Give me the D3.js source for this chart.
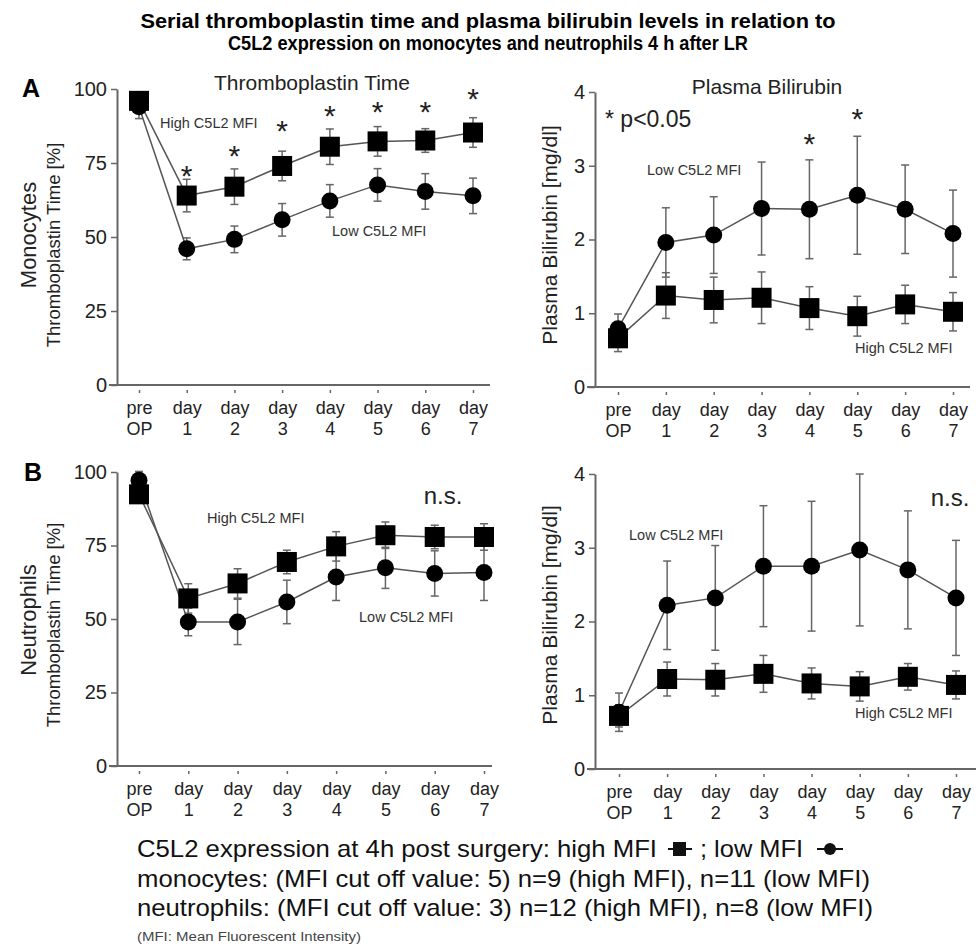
<!DOCTYPE html>
<html>
<head>
<meta charset="utf-8">
<script src="https://cdn.jsdelivr.net/npm/d3@7"></script>
<style>
  body { margin: 0; background: #fff; }
  svg { display: block; font-family: "Liberation Sans", Arial, sans-serif; }
  .axis path, .axis line { stroke: #666; }
  .axis text { fill: #222; }
</style>
</head>
<body>
<script>
var w = 976,
    h = 948;

// x categories (two text lines each)
var cats = ["pre|OP", "day|1", "day|2", "day|3", "day|4", "day|5", "day|6", "day|7"];
var tptTicks = [0, 25, 50, 75, 100];
var bilTicks = [0, 1, 2, 3, 4];

// A: monocytes, thromboplastin time [%]
var monoTptHigh    = [96, 64, 67, 74, 80.5, 82.3, 82.6, 85.3];
var monoTptHighErr = [3, 5.5, 6, 5, 6, 5, 4, 5];
var monoTptLow     = [94, 46, 49.2, 55.8, 62.2, 67.6, 65.4, 63.9];
var monoTptLowErr  = [4, 3.7, 4.5, 5.5, 5.5, 5.5, 6, 6];
var monoTptStars   = [null, 72.7, 79.3, 88, 93, 94.4, 94.4, 98.7];

// A: monocytes, plasma bilirubin [mg/dl]
var monoBilHigh    = [0.66, 1.24, 1.18, 1.21, 1.07, 0.96, 1.12, 1.02];
var monoBilHighErr = [0.18, 0.31, 0.31, 0.35, 0.29, 0.27, 0.26, 0.26];
var monoBilLow     = [0.79, 1.96, 2.06, 2.42, 2.41, 2.6, 2.41, 2.08];
var monoBilLowErr  = [0.2, 0.47, 0.52, 0.63, 0.67, 0.8, 0.6, 0.59];
var monoBilStars   = [null, null, null, null, 3.37, 3.72, null, null];

// B: neutrophils, thromboplastin time [%]
var neuTptHigh    = [92.4, 57, 62.1, 69.4, 74.7, 78.5, 77.9, 77.9];
var neuTptHighErr = [3, 5, 5, 4, 5, 4.5, 4, 4.5];
var neuTptLow     = [97.2, 49, 49, 55.8, 64.3, 67.4, 65.5, 65.8];
var neuTptLowErr  = [3, 4.7, 7.7, 7.4, 8, 7, 7.7, 9.5];

// B: neutrophils, plasma bilirubin [mg/dl]
var neuBilHigh    = [0.72, 1.22, 1.21, 1.29, 1.16, 1.12, 1.25, 1.14];
var neuBilHighErr = [0.15, 0.23, 0.22, 0.25, 0.21, 0.2, 0.18, 0.19];
var neuBilLow     = [0.77, 2.22, 2.32, 2.75, 2.75, 2.97, 2.7, 2.32];
var neuBilLowErr  = [0.26, 0.6, 0.71, 0.82, 0.88, 1.03, 0.8, 0.78];

var svg = d3.select("body").append("svg")
    .attr("width", w)
    .attr("height", h);

function panel(p) {
    var x = d3.scalePoint().domain(cats).range([p.x0, p.x1]);
    var y = d3.scaleLinear().domain([0, p.max]).range([p.yb, p.yt]);
    var g = svg.append("g");

    // y axis
    g.append("g")
        .attr("class", "axis")
        .attr("transform", "translate(" + p.ax + ",0)")
        .call(d3.axisLeft(y).tickValues(p.ticks).tickFormat(d3.format("d"))
            .tickSize(6).tickSizeOuter(0).tickPadding(4))
        .call(function(s) {
            s.select(".domain").attr("stroke-width", 2);
            s.selectAll(".tick line").attr("stroke-width", 1.5);
            s.selectAll("text").style("font-size", "20px");
        });

    // x axis base line
    g.append("line")
        .attr("x1", p.ax - 8).attr("x2", p.xend)
        .attr("y1", p.yb).attr("y2", p.yb)
        .attr("stroke", "#666").attr("stroke-width", 2);

    var xa = g.append("g")
        .attr("class", "axis")
        .attr("transform", "translate(0," + (p.yb + 5) + ")")
        .call(d3.axisBottom(x).tickSize(3).tickFormat(""));
    xa.select(".domain").remove();
    xa.selectAll(".tick line").attr("stroke", "#999").attr("stroke-width", 1.5);
    xa.selectAll(".tick").each(function(d) {
        var parts = d.split("|");
        var t = d3.select(this).append("text")
            .attr("fill", "#222")
            .style("font-size", "18px")
            .attr("text-anchor", "middle");
        t.append("tspan").attr("x", 0).attr("y", 24).text(parts[0]);
        t.append("tspan").attr("x", 0).attr("y", 45).text(parts[1]);
    });

    var series = [
        {v: p.low, e: p.lowErr, shape: "circle"},
        {v: p.high, e: p.highErr, shape: "square"}
    ];

    // error bars
    series.forEach(function(s) {
        var eb = g.append("g").selectAll("g")
            .data(s.v.map(function(v, i) { return {c: cats[i], v: v, e: s.e[i]}; }))
            .enter().append("g")
            .attr("stroke", "#666").attr("stroke-width", 1.5);
        eb.append("line")
            .attr("x1", function(d) { return x(d.c); })
            .attr("x2", function(d) { return x(d.c); })
            .attr("y1", function(d) { return y(d.v - d.e); })
            .attr("y2", function(d) { return y(d.v + d.e); });
        [-1, 1].forEach(function(sg) {
            eb.append("line")
                .attr("x1", function(d) { return x(d.c) - 4; })
                .attr("x2", function(d) { return x(d.c) + 4; })
                .attr("y1", function(d) { return y(d.v + sg * d.e); })
                .attr("y2", function(d) { return y(d.v + sg * d.e); });
        });
    });

    // connecting lines
    var line = d3.line()
        .x(function(d, i) { return x(cats[i]); })
        .y(function(d) { return y(d); });
    series.forEach(function(s) {
        g.append("path")
            .datum(s.v)
            .attr("d", line)
            .attr("fill", "none")
            .attr("stroke", "#555")
            .attr("stroke-width", 1.5);
    });

    // markers
    series.forEach(function(s) {
        var sel = g.append("g").selectAll("x").data(s.v).enter();
        if (s.shape === "circle") {
            sel.append("circle")
                .attr("cx", function(d, i) { return x(cats[i]); })
                .attr("cy", function(d) { return y(d); })
                .attr("r", 8.5)
                .attr("fill", "#000");
        } else {
            sel.append("rect")
                .attr("x", function(d, i) { return x(cats[i]) - 10; })
                .attr("y", function(d) { return y(d) - 10; })
                .attr("width", 20).attr("height", 20)
                .attr("fill", "#000");
        }
    });

    // significance stars
    if (p.stars) {
        g.append("g").selectAll("text")
            .data(p.stars.map(function(v, i) { return {c: cats[i], v: v}; })
                .filter(function(d) { return d.v !== null; }))
            .enter().append("text")
            .attr("x", function(d) { return x(d.c); })
            .attr("y", function(d) { return y(d.v) + 16; })
            .attr("text-anchor", "middle")
            .style("font-size", "30px")
            .attr("fill", "#222")
            .text("*");
    }

    // notes
    p.notes.forEach(function(n) {
        g.append("text")
            .attr("x", n.x).attr("y", n.y)
            .attr("text-anchor", n.anchor || "start")
            .style("font-size", n.size + "px")
            .style("font-weight", n.bold ? "bold" : "normal")
            .attr("fill", n.color || "#222")
            .text(n.t);
    });

    // y labels
    p.ylab.forEach(function(l) {
        g.append("text")
            .attr("transform", "translate(" + l.x + "," + l.y + ") rotate(-90)")
            .attr("text-anchor", "middle")
            .attr("dy", "0.35em")
            .style("font-size", l.size + "px")
            .attr("fill", "#222")
            .text(l.t);
    });
}

panel({
    ax: 117, x0: 139, x1: 473, xend: 490, yb: 385, yt: 89, max: 100, ticks: tptTicks,
    high: monoTptHigh, highErr: monoTptHighErr, low: monoTptLow, lowErr: monoTptLowErr,
    stars: monoTptStars,
    notes: [
        {t: "A", x: 22, y: 97, size: 25, bold: true, color: "#000"},
        {t: "Thromboplastin Time", x: 312, y: 90, size: 21, anchor: "middle"},
        {t: "High C5L2 MFI", x: 160, y: 128, size: 14.5, color: "#333"},
        {t: "Low C5L2 MFI", x: 332, y: 236, size: 14.5, color: "#333"}
    ],
    ylab: [
        {t: "Monocytes", x: 28, y: 235, size: 22},
        {t: "Thromboplastin Time [%]", x: 54, y: 245, size: 18.5}
    ]
});

panel({
    ax: 595, x0: 618, x1: 953, xend: 970, yb: 387, yt: 92, max: 4, ticks: bilTicks,
    high: monoBilHigh, highErr: monoBilHighErr, low: monoBilLow, lowErr: monoBilLowErr,
    stars: monoBilStars,
    notes: [
        {t: "Plasma Bilirubin", x: 767, y: 94, size: 21, anchor: "middle"},
        {t: "* p<0.05", x: 605, y: 127, size: 23},
        {t: "Low C5L2 MFI", x: 647, y: 175, size: 14.5, color: "#333"},
        {t: "High C5L2 MFI", x: 855, y: 353, size: 14.5, color: "#333"}
    ],
    ylab: [
        {t: "Plasma Bilirubin [mg/dl]", x: 550, y: 235, size: 21}
    ]
});

panel({
    ax: 117, x0: 139, x1: 484, xend: 492, yb: 766, yt: 472, max: 100, ticks: tptTicks,
    high: neuTptHigh, highErr: neuTptHighErr, low: neuTptLow, lowErr: neuTptLowErr,
    stars: null,
    notes: [
        {t: "B", x: 24, y: 481, size: 25, bold: true, color: "#000"},
        {t: "n.s.", x: 443, y: 504, size: 24, anchor: "middle"},
        {t: "High C5L2 MFI", x: 207, y: 523, size: 14.5, color: "#333"},
        {t: "Low C5L2 MFI", x: 359, y: 622, size: 14.5, color: "#333"}
    ],
    ylab: [
        {t: "Neutrophils", x: 28, y: 620, size: 22},
        {t: "Thromboplastin Time [%]", x: 54, y: 625, size: 18.5}
    ]
});

panel({
    ax: 595, x0: 619, x1: 956, xend: 976, yb: 769, yt: 474, max: 4, ticks: bilTicks,
    high: neuBilHigh, highErr: neuBilHighErr, low: neuBilLow, lowErr: neuBilLowErr,
    stars: null,
    notes: [
        {t: "n.s.", x: 950, y: 506, size: 24, anchor: "middle"},
        {t: "Low C5L2 MFI", x: 629, y: 540, size: 14.5, color: "#333"},
        {t: "High C5L2 MFI", x: 855, y: 718, size: 14.5, color: "#333"}
    ],
    ylab: [
        {t: "Plasma Bilirubin [mg/dl]", x: 550, y: 615, size: 21}
    ]
});

// main title
svg.append("text")
    .attr("x", 488).attr("y", 28)
    .attr("text-anchor", "middle")
    .attr("textLength", 695).attr("lengthAdjust", "spacingAndGlyphs")
    .style("font-size", "20px").style("font-weight", "bold")
    .text("Serial thromboplastin time and plasma bilirubin levels in relation to");
svg.append("text")
    .attr("x", 488).attr("y", 50)
    .attr("text-anchor", "middle")
    .attr("textLength", 520).attr("lengthAdjust", "spacingAndGlyphs")
    .style("font-size", "20px").style("font-weight", "bold")
    .text("C5L2 expression on monocytes and neutrophils 4 h after LR");

// legend text below
var legend = svg.append("g").attr("fill", "#111");
legend.append("text")
    .attr("x", 137).attr("y", 857)
    .attr("textLength", 520).attr("lengthAdjust", "spacingAndGlyphs")
    .style("font-size", "24px")
    .text("C5L2 expression at 4h post surgery: high MFI");
legend.append("line")
    .attr("x1", 668).attr("x2", 692).attr("y1", 849).attr("y2", 849)
    .attr("stroke", "#111").attr("stroke-width", 2);
legend.append("rect")
    .attr("x", 673).attr("y", 842).attr("width", 13).attr("height", 14);
legend.append("text")
    .attr("x", 700).attr("y", 857)
    .attr("textLength", 103).attr("lengthAdjust", "spacingAndGlyphs")
    .style("font-size", "24px")
    .text("; low MFI");
legend.append("line")
    .attr("x1", 817).attr("x2", 843).attr("y1", 849).attr("y2", 849)
    .attr("stroke", "#111").attr("stroke-width", 2);
legend.append("circle")
    .attr("cx", 830).attr("cy", 849).attr("r", 6);
legend.append("text")
    .attr("x", 137).attr("y", 887)
    .attr("textLength", 733).attr("lengthAdjust", "spacingAndGlyphs")
    .style("font-size", "24px")
    .text("monocytes: (MFI cut off value: 5) n=9 (high MFI), n=11 (low MFI)");
legend.append("text")
    .attr("x", 137).attr("y", 916)
    .attr("textLength", 736).attr("lengthAdjust", "spacingAndGlyphs")
    .style("font-size", "24px")
    .text("neutrophils: (MFI cut off value: 3) n=12 (high MFI), n=8 (low MFI)");
legend.append("text")
    .attr("x", 137).attr("y", 941)
    .attr("textLength", 224).attr("lengthAdjust", "spacingAndGlyphs")
    .style("font-size", "12.5px")
    .attr("fill", "#444")
    .text("(MFI: Mean Fluorescent Intensity)");
</script>
</body>
</html>
